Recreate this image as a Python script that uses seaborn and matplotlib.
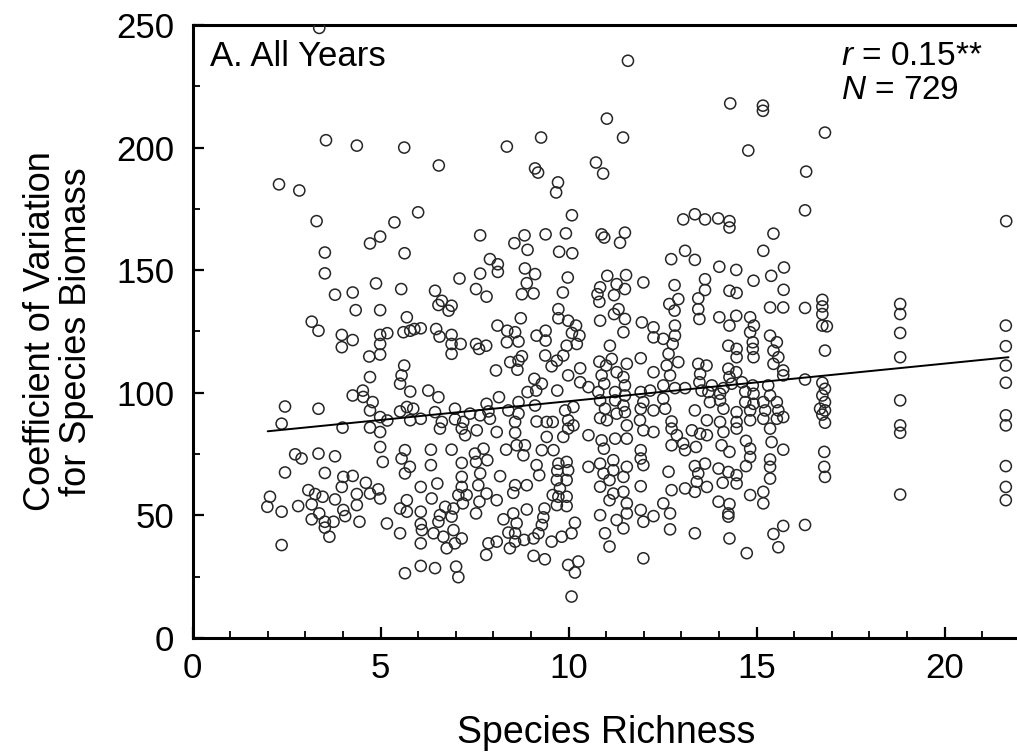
import matplotlib
matplotlib.use("Agg")
import matplotlib.pyplot as plt
import seaborn as sns
import pandas as pd

# ---------------- data (species richness, CV for species biomass) ----------------
top_region = [
    (3.37, 248.8), (3.55, 203.0), (4.37, 200.8), (5.63, 200.0), (6.55, 192.7), (2.30, 185.0),
    (2.84, 182.5), (3.30, 170.0), (5.37, 169.5), (6.00, 173.6),
    (11.58, 235.4), (14.30, 218.0), (14.78, 198.8), (11.02, 211.8), (11.45, 204.1), (9.27, 204.1),
    (8.36, 200.4), (9.11, 191.5), (9.19, 189.8), (10.73, 193.9), (10.92, 189.4), (9.72, 185.8),
    (9.67, 181.7), (10.09, 172.4), (13.05, 170.7), (13.36, 172.8), (13.63, 170.7), (13.98, 171.1),
    (14.28, 170.0), (14.28, 167.4),
    (15.17, 217.1), (15.17, 215.0), (16.82, 206.1), (16.32, 190.2), (16.29, 174.4), (21.64, 170.0),
]

upper_left = [
    (4.99, 163.7), (4.72, 160.9), (3.52, 157.2), (3.52, 148.7), (4.88, 144.6), (3.79, 140.0),
    (4.26, 140.9), (4.34, 133.7), (4.99, 133.7), (3.17, 129.0), (3.35, 125.3), (3.97, 123.6),
    (4.26, 121.5), (3.97, 118.6), (4.99, 123.6), (5.18, 124.3), (4.99, 119.9), (4.70, 114.8),
    (4.99, 115.6), (4.72, 106.4), (4.26, 98.9), (4.53, 100.9), (4.54, 98.3), (4.79, 96.2),
    (4.72, 92.8), (4.99, 90.1), (5.18, 88.7), (2.46, 94.4), (3.35, 93.5), (2.37, 87.4),
    (3.99, 85.8), (4.72, 85.8), (4.99, 84.0),
]

upper_mid_x = [
    7.65, 8.83, 9.39, 9.93, 10.88, 10.95,
    8.56, 8.91, 5.64, 9.75, 10.10,
    7.91, 8.12, 8.12, 8.84, 9.11, 7.65, 7.10, 9.98,
    8.89, 10.84, 11.03, 5.55, 6.45, 7.54, 7.82, 8.76, 9.07, 9.85, 10.77,
    6.63, 6.89, 6.81, 6.54, 10.82, 9.73,
    5.70, 8.73, 9.73, 9.99, 10.84, 6.07, 8.11, 10.20, 5.90,
    5.61, 5.79, 6.48, 6.57, 6.89, 7.13, 6.89, 8.37, 8.58, 9.15, 9.39, 9.39, 10.09, 10.29, 7.81,
    7.54, 8.36, 8.67, 10.22, 9.95,
    6.89, 7.62, 9.38, 9.86, 9.69, 9.55, 8.45, 8.67, 8.76, 8.07, 8.64, 10.82, 11.00, 5.63, 10.31,
    5.56, 9.99, 10.31, 10.53, 10.88, 10.95, 9.09, 9.29, 8.91, 9.14, 9.70, 10.79, 6.27, 6.54,
    5.79, 5.52, 8.15,
    7.82, 8.67, 9.11, 7.87, 8.40, 9.91, 10.13, 10.84, 10.97, 6.98, 6.45, 5.70, 5.87, 5.52,
    7.38, 7.65, 8.67,
    5.79, 6.07, 6.63, 6.98, 7.20, 7.91, 8.58, 9.15, 9.42, 9.58, 9.99, 10.84, 11.02, 6.58,
    7.16, 7.25, 7.56, 8.09, 8.58, 9.99, 10.13, 10.53, 9.42, 9.86,
]
upper_mid_y = [
    164.2, 164.2, 164.6, 165.0, 164.6, 163.3,
    161.0, 158.3, 156.9, 157.5, 156.9,
    154.5, 152.4, 149.3, 150.7, 148.4, 148.6, 146.6, 147.0,
    144.7, 143.0, 147.7, 142.3, 141.6, 142.3, 139.2, 140.2, 140.5, 140.9, 140.2,
    137.5, 135.5, 133.5, 135.8, 137.1, 134.1,
    130.8, 130.4, 130.4, 129.4, 129.4, 126.3, 127.4, 127.4, 126.0,
    124.7, 125.3, 126.0, 122.9, 123.6, 119.9, 119.9, 125.3, 124.7, 123.3, 125.3, 121.3, 124.4,
    123.3, 119.2, 119.9, 120.6, 120.9, 119.9, 119.2,
    115.9, 117.9, 115.2, 115.2, 113.1, 110.8, 112.5, 113.1, 114.9, 109.1, 109.4, 112.7, 111.1,
    111.1, 110.0,
    107.1, 107.1, 104.3, 102.3, 107.1, 103.7, 105.7, 103.7, 100.3, 100.9, 100.9, 100.3, 100.9,
    98.2, 100.5, 103.7, 98.2,
    95.5, 96.2, 94.8, 92.4, 92.8, 92.8, 94.2, 96.9, 93.5, 93.5, 92.1, 94.2, 93.5, 92.4, 91.5,
    90.8, 91.5,
    88.8, 89.4, 88.1, 89.2, 88.1, 89.4, 88.1, 88.3, 88.1, 88.1, 88.8, 89.7, 88.8, 85.4, 85.4,
    82.7, 84.7, 84.0, 83.7, 85.4, 86.7, 82.7, 82.0, 82.0,
]

upper_right_x = [
    11.50, 11.37, 15.45, 15.18, 13.10, 12.73, 13.36, 14.01, 14.46, 15.73, 15.39, 14.92, 11.53,
    11.99, 11.28, 11.50, 13.63, 12.82, 13.63, 14.28, 14.47, 15.72,
    11.21, 12.68, 12.92, 12.82, 13.45, 13.45, 13.48, 14.01, 14.46, 14.28, 14.83, 14.93, 15.36,
    15.71, 16.29, 11.33, 11.21, 11.50, 11.46, 11.95, 12.26, 12.26, 12.52, 12.83, 12.83, 12.77,
    14.83, 14.90, 14.90, 14.92, 15.36, 15.54, 15.45, 15.58, 14.25, 14.47, 14.47, 11.10,
    11.15, 11.55, 11.28, 11.46, 11.92, 12.26, 12.61, 12.66, 12.92, 12.70, 13.45, 13.67, 13.50,
    14.25, 14.28, 14.46, 15.45, 15.71,
    11.24, 11.50, 11.50, 11.92, 12.17, 12.52, 12.83, 13.10, 13.48, 13.54, 13.81, 13.72, 14.12,
    14.03, 14.34, 14.61, 14.70, 14.90, 14.92, 15.31, 15.36, 16.29, 15.71,
    11.24, 11.46, 11.28, 11.50, 11.92, 11.99, 12.26, 12.52, 12.57, 13.36, 13.76, 14.03, 14.12,
    14.47, 14.70, 14.83, 15.18, 15.23, 15.54, 15.58, 14.92,
    11.55, 11.90, 11.99, 12.26, 12.74, 12.74, 12.88, 13.28, 13.68, 14.03, 14.47, 14.47, 14.83,
    15.18, 15.36, 15.54, 15.71, 13.50, 14.12,
]
upper_right_y = [
    165.3, 161.2, 164.9, 157.9, 157.9, 154.5, 154.2, 151.4, 150.1, 151.1, 147.7, 145.7, 148.0,
    145.0, 144.3, 142.3, 146.3, 143.9, 141.9, 141.6, 140.7, 142.0,
    139.8, 136.2, 138.2, 133.5, 138.5, 134.1, 130.1, 130.8, 131.4, 127.4, 130.8, 127.4, 134.8,
    134.8, 134.6, 134.1, 132.1, 130.1, 124.7, 128.7, 126.7, 122.6, 122.0, 127.4, 123.3, 119.9,
    124.7, 120.6, 117.9, 114.5, 123.3, 120.6, 117.2, 114.5, 119.2, 117.9, 114.5, 119.2,
    113.8, 111.8, 108.4, 106.4, 114.1, 108.4, 111.1, 115.9, 112.5, 107.1, 111.8, 111.1, 107.7,
    109.8, 106.4, 108.4, 111.8, 109.1,
    100.3, 103.0, 98.9, 100.3, 100.9, 103.0, 101.9, 101.9, 104.3, 100.9, 103.0, 100.3, 101.9,
    99.6, 103.7, 104.3, 100.5, 103.0, 99.6, 103.0, 98.9, 105.4, 107.1,
    96.9, 94.8, 91.5, 92.1, 93.5, 96.2, 92.8, 97.6, 93.5, 92.8, 96.2, 96.9, 93.5,
    92.1, 96.2, 92.8, 96.2, 92.8, 96.2, 92.8, 95.5,
    86.7, 88.8, 84.7, 84.0, 88.3, 85.4, 82.7, 84.7, 88.8, 88.1, 88.1, 85.4, 88.8,
    89.4, 85.4, 89.4, 90.1, 83.3, 84.0,
]

right_columns = [
    (16.75, 137.9), (16.75, 135.2), (16.75, 132.1), (16.75, 127.4), (16.87, 127.1), (16.82, 117.2),
    (16.75, 104.1), (16.82, 101.6), (16.75, 98.9), (16.82, 96.2), (16.69, 93.5), (16.82, 92.8),
    (16.75, 91.1), (16.82, 87.8), (16.80, 75.9), (16.80, 69.8), (16.82, 65.7),
    (18.82, 136.2), (18.82, 132.1), (18.82, 124.4), (18.82, 114.5), (18.82, 96.9), (18.82, 86.7),
    (18.82, 83.7), (18.82, 58.5),
    (21.63, 127.4), (21.63, 119.0), (21.63, 111.1), (21.63, 104.1), (21.63, 90.8), (21.63, 86.7),
    (21.63, 70.1), (21.63, 61.6), (21.63, 56.2),
]

lower_left = [
    (2.73, 74.9), (2.90, 73.2), (3.35, 75.2), (3.79, 74.1), (2.46, 67.5), (3.52, 67.3),
    (4.01, 65.7), (4.26, 66.1), (3.97, 61.6), (4.61, 63.3), (4.72, 58.9), (4.94, 60.6),
    (4.99, 56.9), (4.37, 58.7), (4.37, 54.2), (3.08, 60.3), (3.26, 58.7), (3.46, 57.6),
    (3.79, 56.5), (2.06, 57.6), (1.99, 53.5), (2.37, 51.5), (2.81, 53.8), (3.17, 54.5),
    (3.37, 50.8), (3.17, 48.4), (3.52, 47.4), (3.75, 47.4), (3.52, 45.0), (3.64, 41.3),
    (4.01, 52.2), (4.06, 49.7), (4.44, 47.4), (5.17, 46.7), (2.37, 37.9), (4.99, 77.9),
    (5.06, 71.8),
]

lower_mid = [
    (8.62, 78.6), (8.84, 78.6), (8.80, 74.5), (8.34, 76.8), (9.29, 76.6), (9.60, 76.6),
    (10.88, 80.6), (10.94, 77.2), (9.73, 71.1), (9.95, 71.8), (9.70, 68.2), (9.99, 68.4),
    (9.69, 64.4), (9.95, 64.4), (9.77, 61.0), (9.95, 57.6), (9.73, 57.6), (9.69, 54.2),
    (9.95, 53.8), (9.58, 58.3), (9.15, 70.5), (9.22, 66.4), (10.53, 69.8), (10.84, 71.1),
    (10.93, 67.1), (11.09, 64.4), (10.84, 61.7), (11.09, 56.2),
    (5.65, 76.6), (5.56, 73.2), (5.78, 69.8), (5.65, 67.1), (6.34, 76.8), (6.34, 70.5),
    (6.89, 76.8), (7.16, 71.4), (7.16, 65.7), (7.51, 75.2), (7.54, 71.8), (7.74, 77.2),
    (7.84, 72.5), (7.65, 67.1), (7.60, 62.3), (7.82, 58.9), (7.16, 61.6), (7.07, 58.3),
    (7.29, 58.3), (7.19, 54.9), (7.63, 55.6), (8.09, 56.2), (8.18, 66.0), (8.58, 62.3),
    (8.89, 62.3), (8.53, 59.2), (6.51, 63.0), (6.07, 61.6), (6.36, 56.9), (5.70, 56.2),
    (5.52, 52.8), (5.70, 51.5), (6.07, 51.5), (6.72, 53.5), (6.94, 52.8), (6.89, 49.5),
    (6.58, 50.1), (7.54, 50.8), (6.54, 47.4), (6.07, 46.5), (6.10, 44.0), (6.41, 42.7),
    (6.67, 41.3), (6.94, 44.0), (7.16, 40.6), (6.98, 38.6), (6.76, 36.6), (6.07, 38.6),
    (5.52, 42.7),
    (8.27, 48.4), (8.53, 50.8), (8.89, 52.4), (9.36, 52.8), (9.33, 49.2), (9.29, 46.1),
    (9.20, 42.7), (9.07, 40.6), (8.82, 40.0), (8.58, 42.7), (8.40, 43.0), (8.62, 46.8),
    (8.58, 39.3), (8.44, 36.6), (8.09, 39.3), (7.87, 38.6), (7.81, 33.9), (9.55, 39.3),
    (9.82, 41.3), (10.08, 42.7), (10.17, 47.0), (10.84, 50.1), (10.97, 42.7), (11.09, 37.3),
    (5.65, 26.4), (6.07, 29.4), (6.45, 28.5), (7.01, 29.1), (7.07, 24.8), (9.07, 33.5),
    (9.37, 32.1), (9.99, 29.8), (10.26, 31.2), (10.17, 26.7), (10.08, 16.9),
]

lower_right = [
    (11.24, 81.3), (11.55, 81.3), (12.74, 78.6), (13.05, 79.3), (13.10, 76.6), (13.39, 77.9),
    (13.68, 82.7), (14.07, 78.6), (14.28, 75.9), (14.72, 80.4), (14.83, 77.2), (14.83, 73.8),
    (14.72, 70.1), (15.40, 79.9), (15.71, 76.8), (15.36, 72.8), (15.36, 69.8), (15.36, 65.0),
    (11.19, 72.5), (11.19, 68.4), (11.55, 69.8), (11.46, 65.7), (11.19, 58.9), (11.46, 59.6),
    (11.55, 54.9), (11.55, 50.8), (11.28, 48.1), (11.46, 44.7), (11.92, 76.6), (11.92, 73.2),
    (11.99, 70.5), (11.92, 61.9), (12.66, 67.8), (12.74, 60.3), (12.52, 54.9), (12.70, 50.8),
    (12.70, 44.3), (12.26, 49.7), (11.99, 47.4), (11.92, 52.2), (13.10, 61.0), (13.36, 70.1),
    (13.45, 67.1), (13.63, 71.1), (13.41, 63.7), (13.36, 59.6), (13.68, 61.6), (13.99, 69.1),
    (14.25, 67.7), (14.47, 66.4), (14.47, 63.0), (14.10, 63.3), (13.99, 55.6), (14.28, 54.6),
    (14.25, 50.8), (14.25, 49.5), (14.83, 58.3), (15.18, 59.6), (15.18, 54.9), (13.36, 42.7),
    (14.28, 40.6), (14.74, 34.6), (15.45, 42.4), (15.58, 37.0), (15.71, 45.7), (16.29, 46.1),
    (11.99, 32.5),
]

# fitted regression line (end points)
fit_x = [2.0, 21.7]
fit_y = [84.3, 114.5]

x_ticks = [0, 5, 10, 15, 20]
y_ticks = [0, 50, 100, 150, 200, 250]

# ---------------- assemble ----------------
pairs = top_region + upper_left + right_columns + lower_left + lower_mid + lower_right
xs = [p[0] for p in pairs] + upper_mid_x + upper_right_x
ys = [p[1] for p in pairs] + upper_mid_y + upper_right_y
df = pd.DataFrame({"richness": xs, "cv": ys})

sns.set_theme(style="ticks")
plt.rcParams["font.family"] = ["Liberation Sans", "DejaVu Sans"]
plt.rcParams["mathtext.fontset"] = "custom"
plt.rcParams["mathtext.it"] = "Liberation Sans:italic"
plt.rcParams["mathtext.rm"] = "Liberation Sans"

fig = plt.figure(figsize=(10.17, 7.52), dpi=100)
ax = fig.add_axes([0.1893, 0.1516, 0.8134, 0.8152])

sns.scatterplot(data=df, x="richness", y="cv", ax=ax, marker="o", s=64,
                facecolors="none", edgecolor="#262626", linewidth=1.1, zorder=3)
sns.lineplot(x=fit_x, y=fit_y, ax=ax, color="black", linewidth=1.4, zorder=4)

ax.set_xlim(0, 22)
ax.set_ylim(0, 250)
ax.set_xticks(x_ticks)
ax.set_xticks(range(0, 23), minor=True)
ax.set_yticks(y_ticks)
ax.set_yticks(range(0, 251, 25), minor=True)
ax.tick_params(which="major", direction="in", length=8, width=1.6, labelsize=25,
               color="black", labelcolor="black")
ax.tick_params(axis="y", which="major", pad=13)
ax.tick_params(axis="x", which="major", pad=10)
ax.tick_params(which="minor", direction="in", length=5, width=1.3, color="black")

for side in ["left", "bottom", "top"]:
    ax.spines[side].set_linewidth(2.2)
    ax.spines[side].set_color("black")
ax.spines["right"].set_visible(False)

ax.set_xlabel("Species Richness", fontsize=27, labelpad=22, color="black")
ax.set_ylabel("Coefficient of Variation\nfor Species Biomass", fontsize=26,
              labelpad=16, linespacing=1.05, color="black")

ax.text(0.47, 244, "A. All Years", fontsize=25, ha="left", va="top", color="black")
ax.text(17.25, 233.7, "$r$ = 0.15**", fontsize=24, ha="left", va="baseline", color="black")
ax.text(17.25, 219.9, "$N$ = 729", fontsize=24, ha="left", va="baseline", color="black")

fig.savefig("out.png", dpi=100)
